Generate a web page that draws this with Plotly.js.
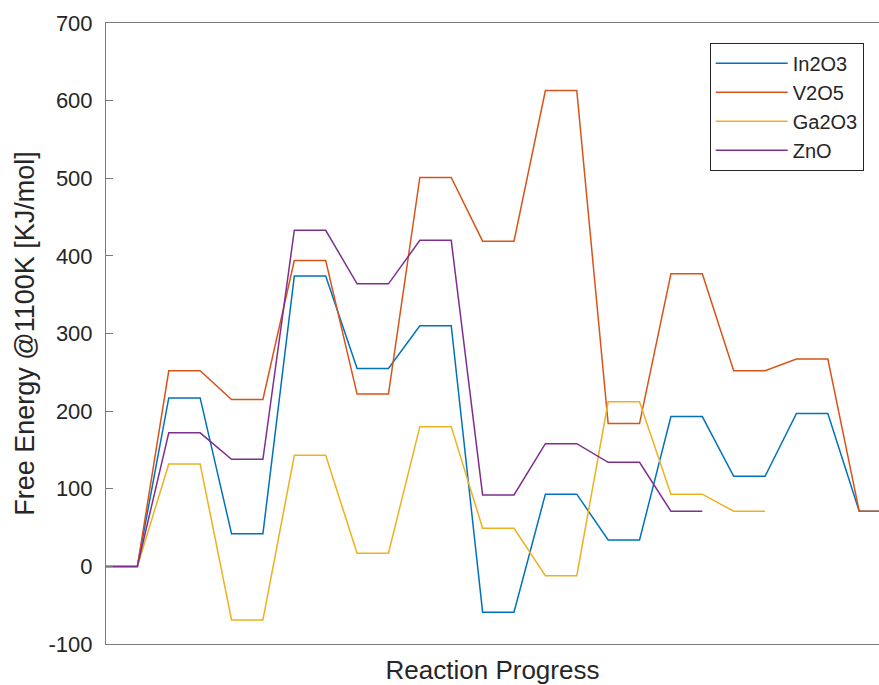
<!DOCTYPE html>
<html>
<head>
<meta charset="utf-8">
<script src="https://cdn.plot.ly/plotly-3.0.1.min.js"></script>
<style>html,body{margin:0;padding:0;background:#fff;}#chart{width:879px;height:685px;}</style>
</head>
<body>
<div id="chart"></div>
<script>
// Energy level of each intermediate state (KJ/mol), one value per level
const seriesNames = ["In2O3", "V2O5", "Ga2O3", "ZnO"];
const In2O3 = [0, 217, 42, 374, 255, 310, -59, 93, 34, 193, 116, 197, 71];
const V2O5  = [0, 252, 215, 394, 222, 501, 419, 613, 184, 377, 252, 267, 71];
const Ga2O3 = [0, 132, -69, 143, 17, 180, 49, -12, 212, 93, 71];
const ZnO   = [0, 172, 138, 433, 364, 420, 92, 158, 134, 71];
const yTicks = [-100, 0, 100, 200, 300, 400, 500, 600, 700];
const yTickLabels = ["-100", "0", "100", "200", "300", "400", "500", "600", "700"];

const colors = ["#0072BD", "#D95319", "#EDB120", "#7E2F8E"];
const allSeries = [In2O3, V2O5, Ga2O3, ZnO];

// each level is a flat segment from step 2i to 2i+1
function expand(levels) {
  const x = [], y = [];
  levels.forEach((v, i) => { x.push(2 * i, 2 * i + 1); y.push(v, v); });
  return {x, y};
}

const traces = allSeries.map((s, k) => {
  const e = expand(s);
  return {
    x: e.x, y: e.y, type: "scatter", mode: "lines", name: seriesNames[k],
    line: {color: colors[k], width: 1.5}
  };
});

const axColor = "#7a7a7a";
const txt = "#262626";
const layout = {
  width: 879, height: 685,
  margin: {l: 106, r: 0, t: 23, b: 41},
  paper_bgcolor: "#fff", plot_bgcolor: "#fff",
  font: {family: "Liberation Sans, Arial, sans-serif", color: txt},
  showlegend: true,
  legend: {
    x: 0.781, y: 0.968, xanchor: "left", yanchor: "top",
    bordercolor: "#262626", borderwidth: 1, bgcolor: "#fff",
    font: {size: 20, color: txt}, itemwidth: 72, tracegroupgap: 0
  },
  xaxis: {
    range: [0, 24.63], showgrid: false, zeroline: false,
    showticklabels: false, ticks: "",
    showline: true, linecolor: axColor, linewidth: 1, mirror: true,
    title: {text: "Reaction Progress", font: {size: 26, color: txt}, standoff: 19}
  },
  yaxis: {
    range: [-100, 700], tickvals: yTicks, ticktext: yTickLabels,
    showgrid: false, zeroline: false,
    showline: true, linecolor: axColor, linewidth: 1,
    ticks: "inside", ticklen: 7, tickcolor: axColor, ticklabelstandoff: 8,
    tickfont: {size: 22, color: txt},
    title: {text: "Free Energy @1100K [KJ/mol]", font: {size: 27, color: txt}, standoff: 6}
  }
};

Plotly.newPlot("chart", traces, layout, {displayModeBar: false, staticPlot: true});
</script>
</body>
</html>
